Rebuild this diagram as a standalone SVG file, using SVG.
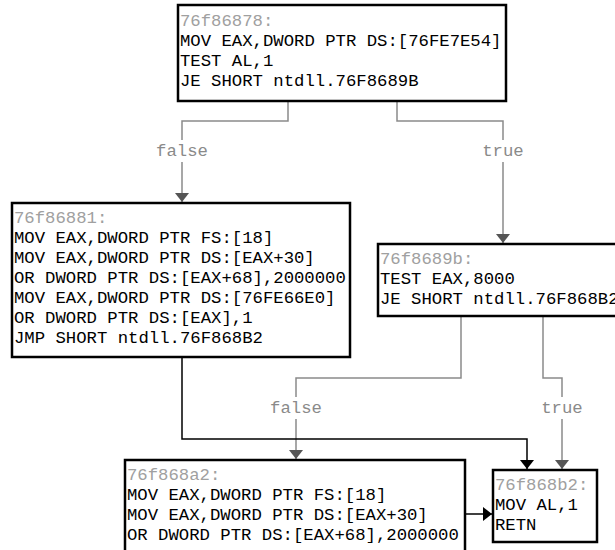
<svg xmlns="http://www.w3.org/2000/svg" width="615" height="550" viewBox="0 0 615 550">
<style>
  .box { fill: #ffffff; stroke: #000000; stroke-width: 2.5; }
  text { font-family: "Liberation Mono", "DejaVu Sans Mono", monospace; font-size: 17.3px; }
  .addr { fill: #a0a0a0; }
  .code { fill: #000000; }
  .lbl { fill: #8a8a8a; text-anchor: middle; }
  .cond { fill: none; stroke: #8a8a8a; stroke-width: 1.5; }
  .jmp { fill: none; stroke: #000000; stroke-width: 1.5; }
</style>
<defs>
  <marker id="ahg" markerUnits="userSpaceOnUse" markerWidth="9" markerHeight="14" refX="9" refY="7" orient="auto" viewBox="0 0 9 14">
    <path d="M0,0 L9,7 L0,14 Z" fill="#555555"/>
  </marker>
  <marker id="ahb" markerUnits="userSpaceOnUse" markerWidth="9" markerHeight="14" refX="9" refY="7" orient="auto" viewBox="0 0 9 14">
    <path d="M0,0 L9,7 L0,14 Z" fill="#000000"/>
  </marker>
</defs>
<rect width="615" height="550" fill="#ffffff"/>

<g id="connectors">
  <path class="cond" d="M288,101 V121 H182 V140 M182,162 V202" marker-end="url(#ahg)"/>
  <text class="lbl" x="182" y="156">false</text>
  <path class="cond" d="M397,101 V121 H503 V140 M503,162 V243" marker-end="url(#ahg)"/>
  <text class="lbl" x="503" y="156">true</text>
  <path class="cond" d="M461,316 V378 H296 V397 M296,419 V459" marker-end="url(#ahg)"/>
  <text class="lbl" x="296" y="413">false</text>
  <path class="cond" d="M543,316 V378 H562 V397 M562,419 V469" marker-end="url(#ahg)"/>
  <text class="lbl" x="562" y="413">true</text>
  <path class="jmp" d="M182,357 V439 H527 V469" marker-end="url(#ahb)"/>
  <path class="jmp" d="M465,514 H492" marker-end="url(#ahb)"/>
</g>

<g id="n76f86878">
  <rect class="box" x="178" y="5" width="328" height="96"/>
  <text class="addr" x="180" y="26">76f86878:</text>
  <text class="code" x="180" y="46">MOV EAX,DWORD PTR DS:[76FE7E54]</text>
  <text class="code" x="180" y="66">TEST AL,1</text>
  <text class="code" x="180" y="86">JE SHORT ntdll.76F8689B</text>
</g>

<g id="n76f86881">
  <rect class="box" x="12" y="203" width="338" height="154"/>
  <text class="addr" x="14" y="223">76f86881:</text>
  <text class="code" x="14" y="243">MOV EAX,DWORD PTR FS:[18]</text>
  <text class="code" x="14" y="263">MOV EAX,DWORD PTR DS:[EAX+30]</text>
  <text class="code" x="14" y="283">OR DWORD PTR DS:[EAX+68],2000000</text>
  <text class="code" x="14" y="303">MOV EAX,DWORD PTR DS:[76FE66E0]</text>
  <text class="code" x="14" y="323">OR DWORD PTR DS:[EAX],1</text>
  <text class="code" x="14" y="343">JMP SHORT ntdll.76F868B2</text>
</g>

<g id="n76f8689b">
  <rect class="box" x="378" y="244" width="260" height="72"/>
  <text class="addr" x="380" y="264">76f8689b:</text>
  <text class="code" x="380" y="284">TEST EAX,8000</text>
  <text class="code" x="380" y="304">JE SHORT ntdll.76F868B2</text>
</g>

<g id="n76f868a2">
  <rect class="box" x="125" y="460" width="340" height="110"/>
  <text class="addr" x="127" y="480">76f868a2:</text>
  <text class="code" x="127" y="500">MOV EAX,DWORD PTR FS:[18]</text>
  <text class="code" x="127" y="520">MOV EAX,DWORD PTR DS:[EAX+30]</text>
  <text class="code" x="127" y="540">OR DWORD PTR DS:[EAX+68],2000000</text>
</g>

<g id="n76f868b2">
  <rect class="box" x="493" y="470" width="104" height="72"/>
  <text class="addr" x="495" y="490">76f868b2:</text>
  <text class="code" x="495" y="510">MOV AL,1</text>
  <text class="code" x="495" y="530">RETN</text>
</g>
</svg>
